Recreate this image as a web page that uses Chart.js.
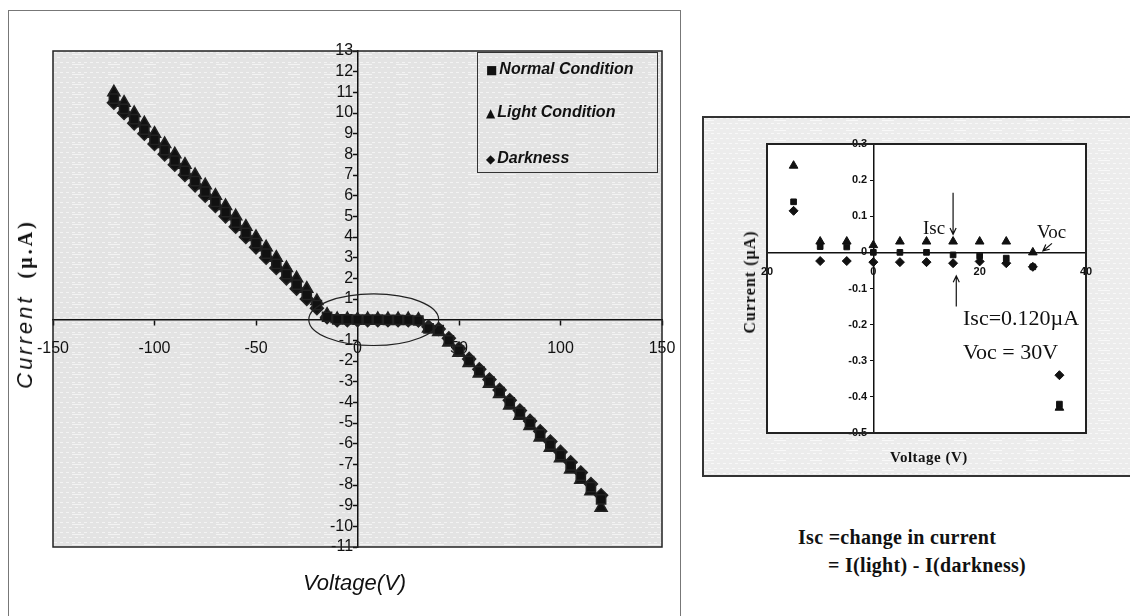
<!DOCTYPE html>
<html>
<head>
<meta charset="UTF-8">
<title>I-V characteristics</title>
<script src="https://cdn.jsdelivr.net/npm/chart.js"></script>
<style>
  body { margin: 0; width: 1130px; height: 616px; background: #fff; position: relative; overflow: hidden;
         font-family: "Liberation Sans", Arial, sans-serif; color: #111; }
  canvas { position: absolute; }
  #mainFrame { position: absolute; left: 8px; top: 10px; width: 673px; height: 640px;
               border: 1.5px solid #777; box-sizing: border-box; }
  .t { position: absolute; white-space: nowrap; transform: translateY(-50%); }
  .serif { font-family: "Liberation Serif", "Times New Roman", serif; }
  #legend { position: absolute; left: 477px; top: 52px; width: 181px; height: 121px;
            border: 1.5px solid #333; box-sizing: border-box; }
  #legend div { position: absolute; left: 8px; font: italic bold 16px "Liberation Sans", Arial, sans-serif; }
  #legend span { font-style: normal; font-size: 12px; margin-right: 2px; font-family: "DejaVu Sans", sans-serif; }
</style>
</head>
<body>
<div id="mainFrame"></div>
<canvas id="mainChart" width="690" height="616" style="left:0;top:0"></canvas>
<canvas id="insetChart" width="428" height="364" style="left:702px;top:116px"></canvas>

<div id="legend">
  <div style="top:7px"><span>■</span>Normal Condition</div>
  <div style="top:50px"><span>▲</span>Light Condition</div>
  <div style="top:96px"><span>◆</span>Darkness</div>
</div>

<div class="t" style="left:25px;top:304px;transform:translate(-50%,-50%) rotate(-90deg)">
  <span style="font:italic 22px 'Liberation Sans',Arial,sans-serif;letter-spacing:3px">Current</span><span style="display:inline-block;width:16px"></span><span class="serif" style="font-weight:bold;font-size:20px;letter-spacing:3px">(µ.A)</span>
</div>
<div class="t" style="left:303px;top:583px;font:italic 22px 'Liberation Sans',Arial,sans-serif">Voltage(V)</div>

<div class="t serif" style="left:750px;top:282px;transform:translate(-50%,-50%) rotate(-90deg);font-weight:bold;font-size:16px;letter-spacing:1px">Current (µA)</div>
<div class="t serif" style="left:890px;top:457px;font-weight:bold;font-size:15px;letter-spacing:0.5px">Voltage (V)</div>
<div class="t serif" style="left:923px;top:228px;font-size:19px">Isc</div>
<div class="t serif" style="left:1037px;top:232px;font-size:19px">Voc</div>
<div class="t serif" style="left:963px;top:318px;font-size:22px">Isc=0.120µA</div>
<div class="t serif" style="left:963px;top:352px;font-size:22px">Voc = 30V</div>

<div class="t serif" style="left:798px;top:537px;font-size:20px;font-weight:bold;letter-spacing:0.3px">Isc =change in current</div>
<div class="t serif" style="left:828px;top:565px;font-size:20px;font-weight:bold;letter-spacing:0.3px">= I(light) - I(darkness)</div>

<script>
// bias voltage (V) of every measured point
const voltage = [-120, -115, -110, -105, -100, -95, -90, -85, -80, -75, -70, -65, -60, -55, -50, -45, -40,
  -35, -30, -25, -20, -15, -10, -5, 0, 5, 10, 15, 20, 25, 30, 35, 40, 45, 50, 55, 60, 65, 70, 75, 80,
  85, 90, 95, 100, 105, 110, 115, 120];

// current (µA)
const normalCurrent = [10.7, 10.2, 9.7, 9.2, 8.7, 8.2, 7.7, 7.2, 6.7, 6.2, 5.7, 5.2, 4.7, 4.2, 3.7, 3.2, 2.7,
  2.2, 1.7, 1.2, 0.7, 0.14, 0.016, 0.015, 0.0, 0.0, 0.0, -0.007, -0.01, -0.016, -0.04, -0.42, -0.5, -1.0,
  -1.5, -2.0, -2.5, -3.0, -3.5, -4.0, -4.5, -5.0, -5.55, -6.05, -6.55, -7.05, -7.55, -8.1, -8.7];
const lightCurrent = [11.0, 10.5, 10.0, 9.5, 9.0, 8.5, 8.0, 7.5, 7.0, 6.5, 6.0, 5.5, 5.0, 4.5, 4.0, 3.5, 3.0,
  2.5, 2.0, 1.5, 0.9, 0.24, 0.03, 0.03, 0.02, 0.03, 0.03, 0.03, 0.03, 0.03, 0.0, -0.43, -0.6, -1.1,
  -1.6, -2.1, -2.6, -3.1, -3.6, -4.15, -4.65, -5.15, -5.7, -6.2, -6.7, -7.25, -7.75, -8.3, -9.1];
const darkCurrent = [10.5, 10.0, 9.5, 9.0, 8.5, 8.0, 7.5, 7.0, 6.5, 6.0, 5.5, 5.0, 4.5, 4.0, 3.5, 3.0, 2.5,
  2.0, 1.5, 1.0, 0.55, 0.115, -0.024, -0.024, -0.027, -0.027, -0.027, -0.03, -0.025, -0.03, -0.04, -0.34, -0.45, -0.9,
  -1.4, -1.9, -2.4, -2.9, -3.4, -3.9, -4.4, -4.9, -5.4, -5.9, -6.4, -6.9, -7.4, -7.95, -8.5];

const seriesNames = ['Normal Condition', 'Light Condition', 'Darkness'];

// the zoomed plot only shows the points near the origin
const insetRange = [-15, 35];

function points(values, range) {
  const out = [];
  voltage.forEach((v, i) => {
    if (!range || (v >= range[0] && v <= range[1])) out.push({ x: v, y: values[i] });
  });
  return out;
}

function texture(base, light) {
  const c = document.createElement('canvas');
  c.width = 36; c.height = 10;
  const g = c.getContext('2d');
  g.fillStyle = base;
  g.fillRect(0, 0, 36, 10);
  g.fillStyle = light;
  for (let i = 0; i < 36; i += 6) {
    g.fillRect(i, 2, 3, 1);
    g.fillRect(i + 3, 7, 3, 1);
  }
  g.fillRect(0, 4, 12, 1);
  return c;
}

function arrow(ctx, x1, y1, x2, y2) {
  const a = Math.atan2(y2 - y1, x2 - x1);
  ctx.beginPath();
  ctx.moveTo(x1, y1);
  ctx.lineTo(x2, y2);
  ctx.moveTo(x2 - 7 * Math.cos(a - 0.45), y2 - 7 * Math.sin(a - 0.45));
  ctx.lineTo(x2, y2);
  ctx.lineTo(x2 - 7 * Math.cos(a + 0.45), y2 - 7 * Math.sin(a + 0.45));
  ctx.stroke();
}

const tickFont = { family: 'Liberation Sans', size: 16 };

const mainDecor = {
  id: 'mainDecor',
  beforeDraw(chart) {
    const { ctx, chartArea: a } = chart;
    ctx.save();
    ctx.fillStyle = ctx.createPattern(texture('#e3e3e3', '#f3f3f3'), 'repeat');
    ctx.fillRect(a.left, a.top, a.right - a.left, a.bottom - a.top);
    ctx.restore();
  },
  afterDatasetsDraw(chart) {
    // ellipse marking the flat region around the origin
    const { ctx, scales: { x, y } } = chart;
    const cx = x.getPixelForValue(8), cy = y.getPixelForValue(0);
    const rx = x.getPixelForValue(40) - cx, ry = cy - y.getPixelForValue(1.25);
    ctx.save();
    ctx.strokeStyle = '#222';
    ctx.lineWidth = 1.2;
    ctx.beginPath();
    ctx.ellipse(cx, cy, rx, ry, 0, 0, Math.PI * 2);
    ctx.stroke();
    ctx.restore();
  },
  afterDraw(chart) {
    const { ctx, chartArea: a } = chart;
    ctx.save();
    ctx.strokeStyle = '#222';
    ctx.lineWidth = 1.5;
    ctx.strokeRect(a.left, a.top, a.right - a.left, a.bottom - a.top);
    ctx.restore();
  }
};

const markerStyles = [
  { pointStyle: 'rect', pointRadius: 6.5 },
  { pointStyle: 'triangle', pointRadius: 7 },
  { pointStyle: 'rectRot', pointRadius: 6.5 }
];

new Chart(document.getElementById('mainChart'), {
  type: 'scatter',
  data: {
    datasets: [normalCurrent, lightCurrent, darkCurrent].map((vals, i) => ({
      label: seriesNames[i],
      data: points(vals),
      backgroundColor: '#111',
      borderColor: '#222',
      borderWidth: 1.5,
      ...markerStyles[i]
    }))
  },
  options: {
    responsive: false,
    animation: false,
    layout: { padding: { left: 53, top: 51, right: 28, bottom: 69 } },
    plugins: { legend: { display: false }, tooltip: { enabled: false } },
    scales: {
      x: {
        type: 'linear', min: -150, max: 150, position: { y: 0 },
        afterFit: s => { s.height = 0; },
        grid: { drawOnChartArea: false, color: '#111', tickLength: 5, tickWidth: 1.5 },
        border: { color: '#111', width: 1.5 },
        ticks: { stepSize: 50, autoSkip: false, maxRotation: 0, padding: 14, color: '#111', font: tickFont }
      },
      y: {
        type: 'linear', min: -11, max: 13, position: { x: 0 },
        afterFit: s => { s.width = 0; },
        grid: { drawOnChartArea: false, color: '#111', tickLength: 4, tickWidth: 1.5 },
        border: { color: '#111', width: 1.5 },
        // trailing space keeps the right-aligned label clear of the axis line
        ticks: { stepSize: 1, autoSkip: false, padding: 2, color: '#111', font: tickFont,
                 callback: v => (v === 0 ? '' : v + ' ') }
      }
    }
  },
  plugins: [mainDecor]
});

const insetDecor = {
  id: 'insetDecor',
  beforeDraw(chart) {
    const { ctx, chartArea: a, width } = chart;
    ctx.save();
    ctx.fillStyle = ctx.createPattern(texture('#ececec', '#f8f8f8'), 'repeat');
    ctx.fillRect(0, 0, width, 361);
    ctx.fillStyle = '#fff';
    ctx.fillRect(a.left, a.top, a.right - a.left, a.bottom - a.top);
    ctx.restore();
  },
  afterDraw(chart) {
    const { ctx, chartArea: a, width, scales: { x, y } } = chart;
    ctx.save();
    ctx.strokeStyle = '#222';
    ctx.lineWidth = 2;
    ctx.strokeRect(a.left, a.top, a.right - a.left, a.bottom - a.top);
    ctx.strokeStyle = '#333';
    ctx.strokeRect(1, 1, width + 10, 359);
    ctx.lineWidth = 1.2;
    ctx.strokeStyle = '#111';
    arrow(ctx, x.getPixelForValue(15), y.getPixelForValue(0.165), x.getPixelForValue(15), y.getPixelForValue(0.05));
    arrow(ctx, x.getPixelForValue(15.6), y.getPixelForValue(-0.15), x.getPixelForValue(15.6), y.getPixelForValue(-0.065));
    arrow(ctx, x.getPixelForValue(33.6), y.getPixelForValue(0.025), x.getPixelForValue(31.9), y.getPixelForValue(0.004));
    ctx.restore();
  }
};

const insetMarkers = [
  { pointStyle: 'rect', pointRadius: 4 },
  { pointStyle: 'triangle', pointRadius: 5 },
  { pointStyle: 'rectRot', pointRadius: 4.5 }
];
const insetFont = { family: 'Liberation Sans', size: 11, weight: 'bold' };

new Chart(document.getElementById('insetChart'), {
  type: 'scatter',
  data: {
    datasets: [normalCurrent, lightCurrent, darkCurrent].map((vals, i) => ({
      label: seriesNames[i],
      data: points(vals, insetRange),
      backgroundColor: '#111',
      borderColor: '#111',
      borderWidth: 1,
      ...insetMarkers[i]
    }))
  },
  options: {
    responsive: false,
    animation: false,
    layout: { padding: { left: 65, top: 28, right: 44, bottom: 47 } },
    plugins: { legend: { display: false }, tooltip: { enabled: false } },
    scales: {
      x: {
        type: 'linear', min: -20, max: 40, position: { y: 0 },
        afterFit: s => { s.height = 0; },
        grid: { drawOnChartArea: false, color: '#111', tickLength: 3 },
        border: { color: '#111', width: 1.5 },
        // the minus sign of -20 is lost in the printed figure
        ticks: { stepSize: 20, autoSkip: false, maxRotation: 0, padding: 10, color: '#111', font: insetFont,
                 callback: v => Math.abs(v) }
      },
      y: {
        type: 'linear', min: -0.5, max: 0.3, position: { x: 0 },
        afterFit: s => { s.width = 0; },
        grid: { drawOnChartArea: false, color: '#111', tickLength: 3 },
        border: { color: '#111', width: 1.5 },
        ticks: { stepSize: 0.1, autoSkip: false, padding: 2, color: '#111', font: insetFont,
                 callback: v => +v.toFixed(1) + '  ' }
      }
    }
  },
  plugins: [insetDecor]
});
</script>
</body>
</html>
